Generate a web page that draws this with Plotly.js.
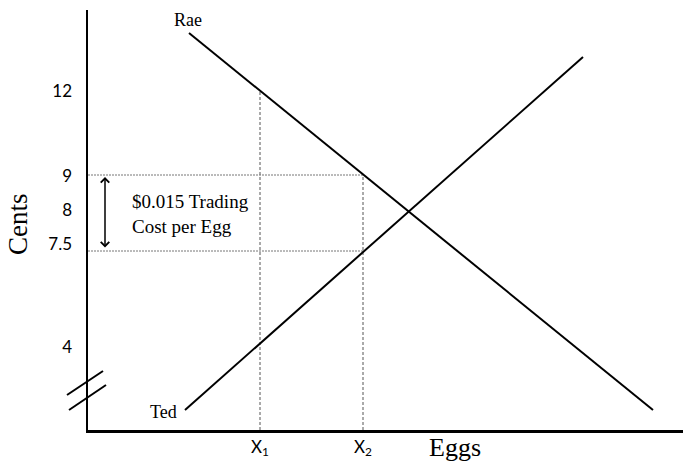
<!DOCTYPE html>
<html>
<head>
<meta charset="utf-8">
<script src="https://cdn.plot.ly/plotly-3.0.1.min.js"></script>
<style>html,body{margin:0;padding:0;background:#fff;}#chart{width:683px;height:465px;}</style>
</head>
<body>
<div id="chart"></div>
<script>
// Schematic units: x = eggs (arbitrary), y = price position on the schematic cents axis
const raeX = [101, 565];
const raeY = [397, 20];
const tedX = [97, 495];
const tedY = [20, 373];

const xTickVals = [172, 275];
const xTickText = ['X<sub>1</sub>', 'X<sub>2</sub>'];

const yTickVals = [339, 254, 220, 186, 83];
const yTickText = ['12', '9', '8', '7.5', '4'];

const priceRaeX1 = 339;   // Rae's value at X1 (12)
const priceRaeX2 = 255;   // Rae's value at X2 (9)
const priceTedX2 = 179;   // Ted's value at X2 (7.5)

const serif = 'Liberation Serif, Times New Roman, serif';
const sans = 'Lato, Open Sans, sans-serif';

const guideV = {color: '#555', width: 1, dash: '3px,2px'};
const guideH = {color: '#777', width: 1, dash: '2px,1px'};

const traces = [
  {x: [xTickVals[0], xTickVals[0]], y: [0, priceRaeX1], mode: 'lines', line: guideV, hoverinfo: 'skip'},
  {x: [xTickVals[1], xTickVals[1]], y: [0, priceRaeX2], mode: 'lines', line: guideV, hoverinfo: 'skip'},
  {x: [0, xTickVals[1]], y: [priceRaeX2, priceRaeX2], mode: 'lines', line: guideH, hoverinfo: 'skip'},
  {x: [0, xTickVals[1]], y: [priceTedX2, priceTedX2], mode: 'lines', line: guideH, hoverinfo: 'skip'},
  {x: raeX, y: raeY, mode: 'lines', name: 'Rae', line: {color: '#000', width: 2}},
  {x: tedX, y: tedY, mode: 'lines', name: 'Ted', line: {color: '#000', width: 2}}
];

// helpers to place decorations relative to the plot frame (plot area: 595 x 420)
const px = v => v / 595;
const py = v => v / 420;

const layout = {
  width: 683, height: 465,
  margin: {l: 88, r: 0, t: 10, b: 35, pad: 0},
  paper_bgcolor: '#fff', plot_bgcolor: '#fff',
  showlegend: false,
  xaxis: {
    range: [0, 595], showgrid: false, zeroline: false,
    showline: true, linecolor: '#000', linewidth: 2.5,
    tickvals: xTickVals, ticktext: xTickText, ticks: '',
    tickfont: {family: sans, size: 17, color: '#000'},
    ticklabelstandoff: 0, fixedrange: true
  },
  yaxis: {
    range: [0, 420], showgrid: false, zeroline: false,
    showline: true, linecolor: '#000', linewidth: 2.5,
    tickvals: yTickVals, ticktext: yTickText, ticks: '',
    tickfont: {family: sans, size: 17, color: '#000'},
    ticklabelstandoff: 10, fixedrange: true
  },
  shapes: [
    {type: 'line', xref: 'paper', yref: 'paper', x0: px(-21), y0: py(35), x1: px(15), y1: py(59), line: {color: '#000', width: 2}},
    {type: 'line', xref: 'paper', yref: 'paper', x0: px(-19), y0: py(20), x1: px(18), y1: py(45), line: {color: '#000', width: 2}}
  ],
  annotations: [
    {x: 100, y: 410, xref: 'x', yref: 'y', xanchor: 'center', yanchor: 'middle', text: 'Rae', showarrow: false,
     font: {family: serif, size: 18, color: '#000'}},
    {x: 75, y: 18, xref: 'x', yref: 'y', xanchor: 'center', yanchor: 'middle', text: 'Ted', showarrow: false,
     font: {family: serif, size: 18, color: '#000'}},
    {x: 42, y: 216, xref: 'x', yref: 'y', xanchor: 'left', yanchor: 'middle', align: 'left',
     text: '$0.015 Trading<br>Cost per Egg', showarrow: false,
     font: {family: serif, size: 19, color: '#000'}},
    {x: 17, y: priceRaeX2 - 2, ax: 17, ay: priceTedX2 + 2, xref: 'x', yref: 'y', axref: 'x', ayref: 'y',
     text: '', showarrow: true, arrowside: 'end+start', arrowhead: 4, arrowsize: 1.1, arrowwidth: 1.5, arrowcolor: '#000'},
    {x: px(367), y: py(-17), xref: 'paper', yref: 'paper', xanchor: 'center', yanchor: 'middle', text: 'Eggs', showarrow: false,
     font: {family: serif, size: 26, color: '#000'}},
    {x: px(-70), y: py(206), xref: 'paper', yref: 'paper', xanchor: 'center', yanchor: 'middle', text: 'Cents', textangle: -90, showarrow: false,
     font: {family: serif, size: 27, color: '#000'}}
  ]
};

Plotly.newPlot('chart', traces, layout, {displayModeBar: false, staticPlot: true});
</script>
</body>
</html>
